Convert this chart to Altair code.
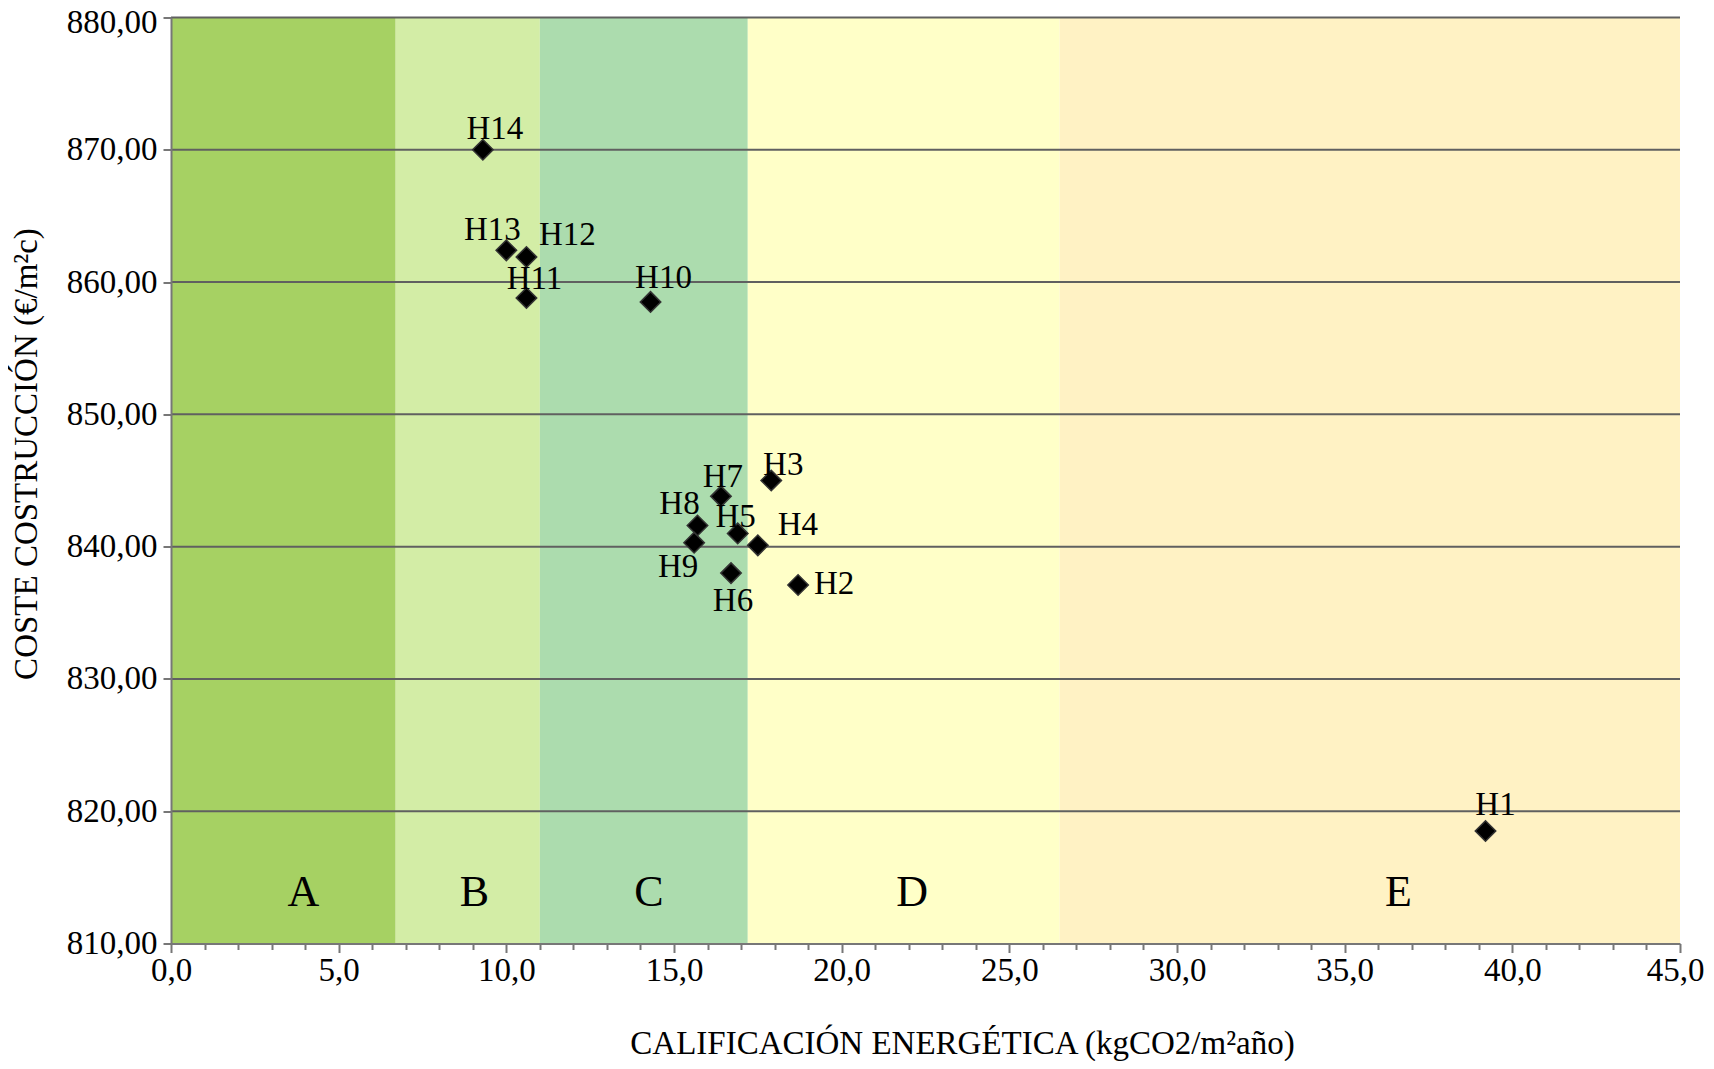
import altair as alt
import pandas as pd

# ---- data ----
names = ["H1", "H2", "H3", "H4", "H5", "H6", "H7", "H8", "H9", "H10", "H11", "H12", "H13", "H14"]
emission = [39.2, 18.7, 17.9, 17.5, 16.9, 16.7, 16.4, 15.7, 15.6, 14.3, 10.6, 10.6, 10.0, 9.3]
cost = [818.5, 837.1, 845.0, 840.1, 841.0, 838.0, 843.8, 841.6, 840.3, 858.5, 858.8, 861.9, 862.4, 870.0]

band_names = ["A", "B", "C", "D", "E"]
band_start = [0.0, 6.7, 11.0, 17.2, 26.5]
band_end = [6.7, 11.0, 17.2, 26.5, 45.0]
band_label_x = [3.95, 9.05, 14.25, 22.1, 36.6]
band_label_y = [813.8, 813.8, 813.8, 813.8, 813.8]
band_colors = ["#a6d163", "#d3eda6", "#acdcae", "#ffffc8", "#fff2c4"]

y_ticks = [810, 820, 830, 840, 850, 860, 870, 880]
x_ticks = list(range(0, 46))

# ---- styling ----
FONT = "Liberation Serif"
W, H = 1509, 926
label_offsets = {
    "H14": (12, -21), "H13": (-14, -20), "H12": (41, -22), "H11": (8, -19),
    "H10": (13, -24), "H3": (12, -16), "H7": (2, -19), "H8": (-18, -21),
    "H5": (-2, -16), "H4": (40, -20), "H9": (-16, 24), "H6": (2, 28),
    "H2": (36, -1), "H1": (10, -26),
}

pts = pd.DataFrame({"name": names, "x": emission, "y": cost})
bands = pd.DataFrame({"band": band_names, "start": band_start, "end": band_end,
                      "lx": band_label_x, "ly": band_label_y})
grid = pd.DataFrame({"y": [v for v in y_ticks if v > y_ticks[0]]})

xscale = alt.Scale(domain=[0, 45], nice=False, zero=False)
yscale = alt.Scale(domain=[810, 880], nice=False, zero=False)

xaxis = alt.Axis(
    title="CALIFICACIÓN ENERGÉTICA (kgCO2/m²año)",
    values=x_ticks,
    labelExpr="datum.value % 5 === 0 ? replace(format(datum.value, '.1f'), '.', ',') : ''",
    labelOffset=alt.ExprRef("datum.value === 45 ? -5 : 0"),
    grid=False, domainColor="#777777", domainWidth=2,
    tickColor="#777777", tickWidth=2,
    tickSize=alt.ExprRef("datum.value % 5 === 0 ? 9 : 6"),
    labelFont=FONT, labelFontSize=33, labelColor="black", labelPadding=2,
    labelFlush=False, labelOverlap=False,
    titleFont=FONT, titleFontSize=33, titleFontWeight="normal", titleColor="black",
    titleX=791, titleY=100, titleBaseline="middle", titleAlign="center",
    zindex=1,
)
yaxis = alt.Axis(
    title="COSTE COSTRUCCIÓN (€/m²c)",
    values=y_ticks,
    labelExpr="replace(format(datum.value, '.2f'), '.', ',')",
    labelOffset=alt.ExprRef("datum.value === 880 ? 5 : 0"),
    grid=False, domainColor="#777777", domainWidth=2,
    tickColor="#777777", tickWidth=2, tickSize=8,
    labelFont=FONT, labelFontSize=33, labelColor="black", labelPadding=6,
    labelFlush=False, labelOverlap=False,
    titleFont=FONT, titleFontSize=33, titleFontWeight="normal", titleColor="black",
    titleX=-145, titleY=436, titleBaseline="middle", titleAlign="center", titleAngle=270,
    zindex=1,
)

band_layer = alt.Chart(bands).mark_rect(strokeWidth=0).encode(
    x=alt.X("start:Q", scale=xscale, axis=xaxis),
    x2="end:Q",
    y=alt.Y(datum=810, scale=yscale, axis=yaxis),
    y2=alt.datum(880),
    color=alt.Color("band:N", scale=alt.Scale(domain=band_names, range=band_colors), legend=None),
)

band_text = alt.Chart(bands).mark_text(font=FONT, fontSize=44, color="black",
                                       baseline="middle", align="center").encode(
    x=alt.X("lx:Q", scale=xscale, axis=xaxis),
    y=alt.Y("ly:Q", scale=yscale, axis=yaxis),
    text="band:N",
)

grid_layer = alt.Chart(grid).mark_rule(color="#606060", strokeWidth=2).encode(
    x=alt.X(datum=0, scale=xscale, axis=xaxis),
    x2=alt.datum(45),
    y=alt.Y("y:Q", scale=yscale, axis=yaxis),
)

point_layer = alt.Chart(pts).mark_point(shape="diamond", filled=True, size=420,
                                        color="black", stroke="#333333",
                                        strokeWidth=1.5, opacity=1).encode(
    x=alt.X("x:Q", scale=xscale, axis=xaxis),
    y=alt.Y("y:Q", scale=yscale, axis=yaxis),
)

text_layers = []
for n in names:
    dx, dy = label_offsets[n]
    text_layers.append(
        alt.Chart(pts).transform_filter(alt.datum.name == n).mark_text(
            font=FONT, fontSize=33, color="black", dx=dx, dy=dy,
            baseline="middle", align="center").encode(
            x=alt.X("x:Q", scale=xscale, axis=xaxis),
            y=alt.Y("y:Q", scale=yscale, axis=yaxis),
            text="name:N",
        )
    )

chart = alt.layer(band_layer, grid_layer, band_text, point_layer, *text_layers).properties(
    width=W, height=H,
    autosize="none",
    padding={"left": 163, "top": 9.5, "right": 26, "bottom": 117.5},
    background="white",
).configure_view(stroke=None)

chart.save("out.html", embed_options={"renderer": "svg", "actions": False})
